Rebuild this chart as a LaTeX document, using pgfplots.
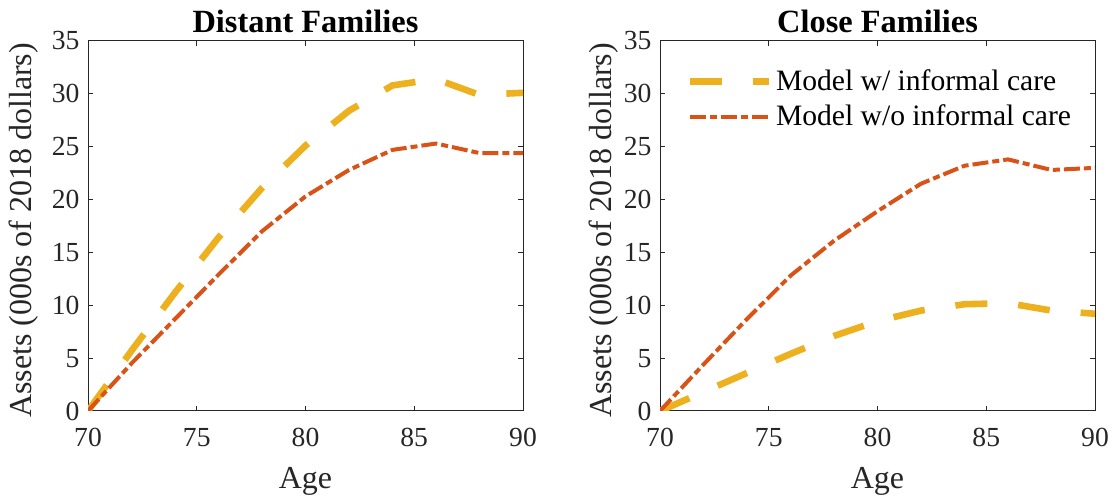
\documentclass[border=0pt]{standalone}
\usepackage{fontspec}
\setmainfont{Liberation Serif}
\usepackage{pgfplots}
\pgfplotsset{compat=1.18}
\definecolor{myyel}{RGB}{237,177,32}
\definecolor{myora}{RGB}{217,83,25}
\definecolor{axgray}{RGB}{38,38,38}
\pgfplotsset{
  myax/.style={
    scale only axis, width=217.5pt, height=185pt,
    xmin=70, xmax=90, ymin=0, ymax=35,
    xtick={70,75,...,90}, ytick={0,5,...,35},
    tick align=inside, major tick length=2.5pt,
    axis line style={draw=axgray, line width=0.5pt},
    every tick/.style={draw=axgray, line width=0.5pt},
    font=\fontsize{13.8}{16}\selectfont,
    /pgf/number format/assume math mode=true,
    ticklabel style={text=axgray},
    xticklabel style={yshift=-5.2pt},
    yticklabel style={xshift=-0.7pt},
    xlabel={Age}, ylabel={Assets (000s of 2018 dollars)},
    label style={text=axgray, font=\fontsize{16}{19}\selectfont},
    xlabel style={at={(axis description cs:0.5,-0.209)}, anchor=base},
    title style={font=\fontsize{16.2}{19}\selectfont\bfseries, at={(axis description cs:0.5,1)}, anchor=base, yshift=-1.8pt},
    legend image code/.code={\draw[##1] (0pt,0pt) -- (39.5pt,0pt);},
  },
  yel/.style={color=myyel, line width=3.3pt, dash pattern=on 16pt off 15.5pt},
  ora/.style={color=myora, line width=2pt, dash pattern=on 8pt off 2pt on 3.5pt off 2pt},
}
\begin{document}
\begin{tikzpicture}
\useasboundingbox (0,0) rectangle (557.5pt,248.5pt);
\begin{axis}[myax, at={(44pt,43pt)}, anchor=south west, title={Distant Families},
  ylabel style={at={(axis description cs:-0.147,0.488)}, anchor=center}]
\addplot[yel] coordinates {(70,0) (72,5.7) (74,11.2) (76,16.4) (78,21.1) (80,25.1) (82,28.4) (84,30.8) (86,31.4) (88,29.9) (90,30.1)};
\addplot[ora] coordinates {(70,0) (72,4.5) (74,8.7) (76,12.9) (78,17.0) (80,20.3) (82,22.8) (84,24.7) (86,25.3) (88,24.4) (90,24.4)};
\end{axis}
\begin{axis}[myax, at={(330pt,43pt)}, anchor=south west, title={Close Families},
  ylabel style={at={(axis description cs:-0.1287,0.488)}, anchor=center},
  legend style={at={(axis description cs:0.046,0.945)}, anchor=north west, draw=none, fill=none, font=\fontsize{14.8}{17}\selectfont, row sep=1.5pt},
  legend cell align=left]
\addplot[yel] coordinates {(70,0) (72,1.8) (74,3.6) (76,5.4) (78,7.1) (80,8.5) (82,9.5) (84,10.1) (86,10.2) (88,9.5) (90,9.2)};
\addlegendentry{Model w/ informal care}
\addplot[ora] coordinates {(70,0) (72,4.4) (74,8.7) (76,12.8) (78,16.1) (80,18.9) (82,21.5) (84,23.2) (86,23.8) (88,22.8) (90,23.0)};
\addlegendentry{Model w/o informal care}
\end{axis}
\end{tikzpicture}
\end{document}
